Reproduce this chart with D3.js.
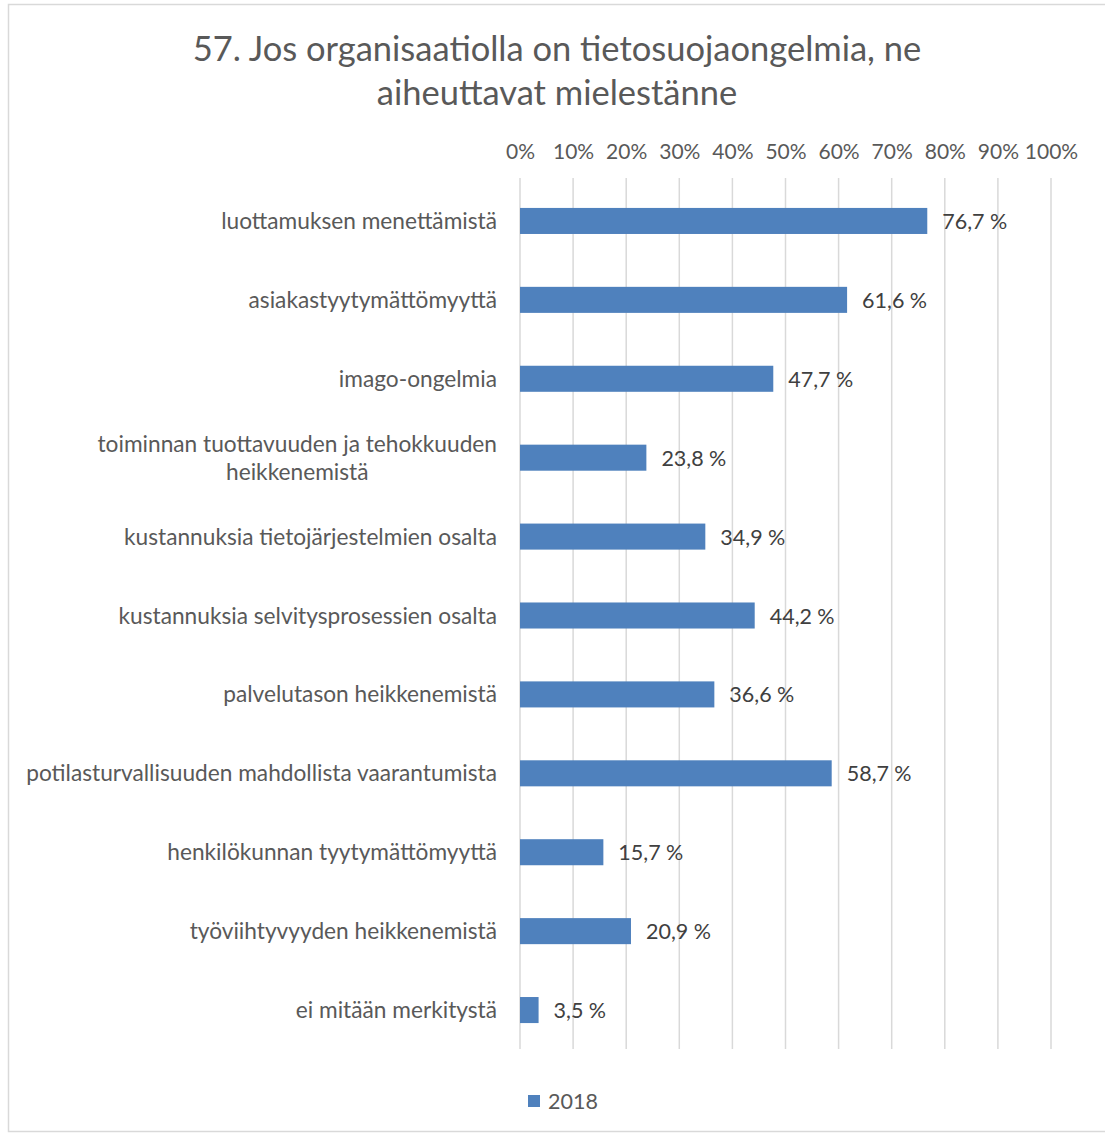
<!DOCTYPE html>
<html>
<head>
<meta charset="utf-8">
<script src="https://cdn.jsdelivr.net/npm/d3@7"></script>
<style>
  body { margin: 0; background: #fff; }
  svg { display: block; font-family: Lato, "Open Sans", sans-serif; }
</style>
</head>
<body>
<svg width="1105" height="1135"></svg>
<script>
const titleLines = ["57. Jos organisaatiolla on tietosuojaongelmia, ne", "aiheuttavat mielestänne"];

const categories = [
  ["luottamuksen menettämistä"],
  ["asiakastyytymättömyyttä"],
  ["imago-ongelmia"],
  ["toiminnan tuottavuuden ja tehokkuuden", "heikkenemistä"],
  ["kustannuksia tietojärjestelmien osalta"],
  ["kustannuksia selvitysprosessien osalta"],
  ["palvelutason heikkenemistä"],
  ["potilasturvallisuuden mahdollista vaarantumista"],
  ["henkilökunnan tyytymättömyyttä"],
  ["työviihtyvyyden heikkenemistä"],
  ["ei mitään merkitystä"]
];
const values2018 = [76.7, 61.6, 47.7, 23.8, 34.9, 44.2, 36.6, 58.7, 15.7, 20.9, 3.5];
const ticks = [0, 10, 20, 30, 40, 50, 60, 70, 80, 90, 100];
const seriesName = "2018";

const svg = d3.select("svg");
const barColor = "#4f81bd";

// outer frame
svg.append("rect")
  .attr("x", 8.5).attr("y", 4.5)
  .attr("width", 1110).attr("height", 1127)
  .attr("fill", "none").attr("stroke", "#d9d9d9").attr("stroke-width", 1.5);

const x = d3.scaleLinear().domain([0, 100]).range([520, 1051]);
const y = d3.scaleBand()
  .domain(categories.map((d, i) => i))
  .range([181.5, 1049.5])
  .paddingInner(0.67)
  .paddingOuter(0.335);

// title
svg.append("g").selectAll("text")
  .data(titleLines)
  .join("text")
  .attr("x", 557)
  .attr("y", (d, i) => 61 + i * 44)
  .attr("text-anchor", "middle")
  .attr("font-size", 34.5)
  .attr("fill", "#595959")
  .text(d => d);

// gridlines
svg.append("g").selectAll("line")
  .data(ticks)
  .join("line")
  .attr("x1", d => x(d)).attr("x2", d => x(d))
  .attr("y1", 178).attr("y2", 1049)
  .attr("stroke", "#d9d9d9").attr("stroke-width", 1.5);

// top axis
const axis = svg.append("g")
  .attr("transform", "translate(0,159)")
  .call(d3.axisTop(x).tickValues(ticks).tickFormat(d => d + "%").tickSize(0).tickPadding(0));
axis.select(".domain").remove();
axis.selectAll("text")
  .attr("font-family", "Lato, 'Open Sans', sans-serif")
  .attr("font-size", 21)
  .attr("fill", "#595959");

// bars
svg.append("g").selectAll("rect")
  .data(values2018)
  .join("rect")
  .attr("x", x(0))
  .attr("y", (d, i) => y(i))
  .attr("width", d => x(d) - x(0))
  .attr("height", y.bandwidth())
  .attr("fill", barColor);

// data labels
svg.append("g").selectAll("text")
  .data(values2018)
  .join("text")
  .attr("x", d => x(d) + 15)
  .attr("y", (d, i) => y(i) + y.bandwidth() / 2 + 8)
  .attr("font-size", 21.5)
  .attr("fill", "#404040")
  .text(d => d.toFixed(1).replace(".", ",") + "\u202f%");

// category labels (wrapped lines centred under the first line)
const catG = svg.append("g").selectAll("text")
  .data(categories)
  .join("text")
  .attr("y", (d, i) => y(i) + y.bandwidth() / 2 + 8 - (d.length - 1) * 14)
  .attr("font-size", 22.7)
  .attr("fill", "#595959");
catG.each(function (lines) {
  const t = d3.select(this);
  let center = 497;
  lines.forEach((line, j) => {
    const span = t.append("tspan")
      .attr("dy", j === 0 ? 0 : 28)
      .attr("text-anchor", j === 0 ? "end" : "middle")
      .attr("x", j === 0 ? 497 : center)
      .text(line);
    if (j === 0) center = 497 - span.node().getComputedTextLength() / 2;
  });
});

// legend
const legend = svg.append("g").attr("transform", "translate(528,1095)");
legend.append("rect").attr("width", 12).attr("height", 12).attr("fill", barColor);
legend.append("text")
  .attr("x", 20).attr("y", 14)
  .attr("font-size", 21.5)
  .attr("fill", "#595959")
  .text(seriesName);
</script>
</body>
</html>
